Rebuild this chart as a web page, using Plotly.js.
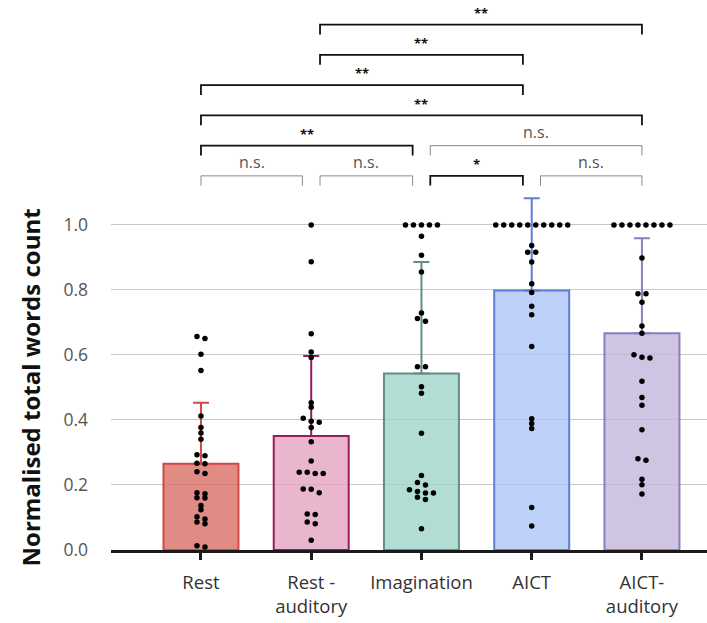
<!DOCTYPE html>
<html>
<head>
<meta charset="utf-8">
<script src="https://cdn.plot.ly/plotly-3.0.1.min.js"></script>
<style>html,body{margin:0;padding:0;background:#fff;}#chart{width:707px;height:623px;}</style>
</head>
<body>
<div id="chart"></div>
<script>
// ---- data ----
const categories = ['Rest', 'Rest -<br>auditory', 'Imagination', 'AICT', 'AICT-<br>auditory'];
const means = [0.265, 0.351, 0.543, 0.798, 0.667];
const sds = [0.188, 0.246, 0.343, 0.284, 0.292];

const restPoints = [0.657, 0.651, 0.602, 0.552, 0.412, 0.377, 0.360, 0.341, 0.293, 0.290,
  0.267, 0.265, 0.241, 0.235, 0.176, 0.173, 0.161, 0.160, 0.137, 0.124, 0.102, 0.095,
  0.086, 0.081, 0.013, 0.009];
const restAuditoryPoints = [1.0, 0.887, 0.665, 0.609, 0.592, 0.453, 0.439, 0.405, 0.396, 0.393,
  0.377, 0.333, 0.274, 0.239, 0.239, 0.235, 0.235, 0.188, 0.187, 0.176, 0.111, 0.109,
  0.086, 0.081, 0.030];
const imaginationPoints = [1.0, 1.0, 1.0, 1.0, 1.0, 0.965, 0.907, 0.855, 0.729, 0.712, 0.704,
  0.564, 0.564, 0.502, 0.482, 0.359, 0.229, 0.208, 0.200, 0.185, 0.180, 0.175, 0.175,
  0.162, 0.155, 0.065];
const aictPoints = [1.0, 1.0, 1.0, 1.0, 1.0, 1.0, 1.0, 1.0, 1.0, 1.0, 0.937, 0.916, 0.916,
  0.886, 0.819, 0.792, 0.750, 0.724, 0.626, 0.404, 0.389, 0.374, 0.131, 0.074];
const aictAuditoryPoints = [1.0, 1.0, 1.0, 1.0, 1.0, 1.0, 1.0, 1.0, 0.898, 0.788, 0.788, 0.762,
  0.689, 0.667, 0.601, 0.593, 0.591, 0.519, 0.469, 0.445, 0.370, 0.281, 0.276, 0.218,
  0.201, 0.172];
const pointSets = [restPoints, restAuditoryPoints, imaginationPoints, aictPoints, aictAuditoryPoints];

// significance comparisons
const compFrom  = [0, 1, 2, 3, 0, 2, 0, 0, 1, 1];
const compTo    = [1, 2, 3, 4, 2, 4, 4, 3, 3, 4];
const compLevel = [1, 1, 1, 1, 2, 2, 3, 4, 5, 6];
const compLabel = ['n.s.', 'n.s.', '*', 'n.s.', '**', 'n.s.', '**', '**', '**', '**'];

const yTicks = [0, 0.2, 0.4, 0.6, 0.8, 1.0];

// ---- styles ----
const fills = ['rgba(218,110,102,0.8)', 'rgba(227,164,194,0.8)', 'rgba(159,212,203,0.8)',
  'rgba(174,197,249,0.8)', 'rgba(196,181,220,0.8)'];
const edges = ['rgb(212,72,66)', 'rgb(150,30,92)', 'rgb(98,142,132)', 'rgb(92,126,214)', 'rgb(140,126,190)'];
const FONT = '"Open Sans", "Noto Sans", sans-serif';

const W = 707, H = 623;
const M = {l: 111, r: 0, t: 0, b: 73};
const xRange = [-0.816, 4.59];
const yRange = [0, 1.692];
const pxPerX = (W - M.l - M.r) / (xRange[1] - xRange[0]);
const pxPerY = (H - M.t - M.b) / (yRange[1] - yRange[0]);

// simple swarm layout: group near-equal values into rows, centre each row
function swarmOffsets(vals) {
  const idx = vals.map((v, i) => i).sort((a, b) => vals[b] - vals[a]);
  const thr = 4 / pxPerY;
  const step = 8 / pxPerX;
  const off = new Array(vals.length).fill(0);
  let group = [];
  const flush = () => {
    const n = group.length;
    group.forEach((gi, k) => { off[gi] = (k - (n - 1) / 2) * step; });
    group = [];
  };
  idx.forEach(i => {
    if (group.length && vals[group[0]] - vals[i] > thr) flush();
    group.push(i);
  });
  flush();
  return off;
}

const traces = [];
categories.forEach((c, i) => {
  traces.push({
    type: 'bar', x: [i], y: [means[i]], width: 0.68,
    marker: {color: fills[i], line: {color: edges[i], width: 2}},
    error_y: {type: 'data', symmetric: false, array: [sds[i]], arrayminus: [0],
      color: edges[i], thickness: 2, width: 8},
    hoverinfo: 'skip', showlegend: false
  });
});
pointSets.forEach((pts, i) => {
  const off = swarmOffsets(pts);
  traces.push({
    type: 'scatter', mode: 'markers',
    x: pts.map((v, k) => i + off[k]), y: pts,
    marker: {color: '#000', size: 5.5},
    cliponaxis: false, hoverinfo: 'skip', showlegend: false
  });
});

// brackets
const base = 1.151, gapLvl = 0.093, drop = 0.03, inset = 0.08;
const shapes = [], annotations = [];
compFrom.forEach((a, k) => {
  const b = compTo[k];
  const x1 = a === 0 ? a : a + inset;
  const x2 = b === categories.length - 1 ? b : b - inset;
  const y = base + (compLevel[k] - 1) * gapLvl;
  const sig = compLabel[k] !== 'n.s.';
  shapes.push({
    type: 'path', xref: 'x', yref: 'y',
    path: `M ${x1},${y - drop} L ${x1},${y} L ${x2},${y} L ${x2},${y - drop}`,
    line: {color: sig ? '#111' : '#8a8a8a', width: sig ? 1.8 : 1}
  });
  annotations.push({
    xref: 'x', yref: 'y', x: (x1 + x2) / 2, y: y + (sig ? 0.036 : 0.042),
    text: compLabel[k], showarrow: false, yanchor: 'middle',
    font: sig ? {size: 13, color: '#111', family: FONT, weight: 'bold'} : {size: 16, color: '#555', family: FONT}
  });
});
annotations.push({
  xref: 'paper', yref: 'y', x: (30 - M.l) / (W - M.l - M.r), y: 0.5,
  xanchor: 'center', yanchor: 'middle', textangle: -90, showarrow: false,
  text: '<b>Normalised total words count</b>', font: {size: 24, color: '#111', family: FONT}
});

const layout = {
  width: W, height: H, margin: M,
  paper_bgcolor: '#fff', plot_bgcolor: '#fff',
  font: {family: FONT, color: '#333'},
  barmode: 'overlay', bargap: 0,
  xaxis: {
    range: xRange, tickmode: 'array', tickvals: categories.map((c, i) => i), ticktext: categories,
    showgrid: false, zeroline: false, showline: true, linecolor: '#1a1a1a', linewidth: 3,
    ticks: 'outside', ticklen: 7, tickwidth: 3, tickcolor: '#1a1a1a', ticklabelstandoff: 7,
    tickfont: {size: 18.5, color: '#333'}, fixedrange: true
  },
  yaxis: {
    range: yRange, tickmode: 'array', tickvals: yTicks, ticktext: yTicks.map(v => v.toFixed(1)),
    showgrid: true, gridcolor: '#c8c8c8', gridwidth: 1, zeroline: false, showline: false,
    ticks: '', tickfont: {size: 17.5, color: '#555'}, ticklabelstandoff: 22, fixedrange: true
  },
  shapes: shapes, annotations: annotations
};

Plotly.newPlot('chart', traces, layout, {displayModeBar: false, staticPlot: true});
</script>
</body>
</html>
